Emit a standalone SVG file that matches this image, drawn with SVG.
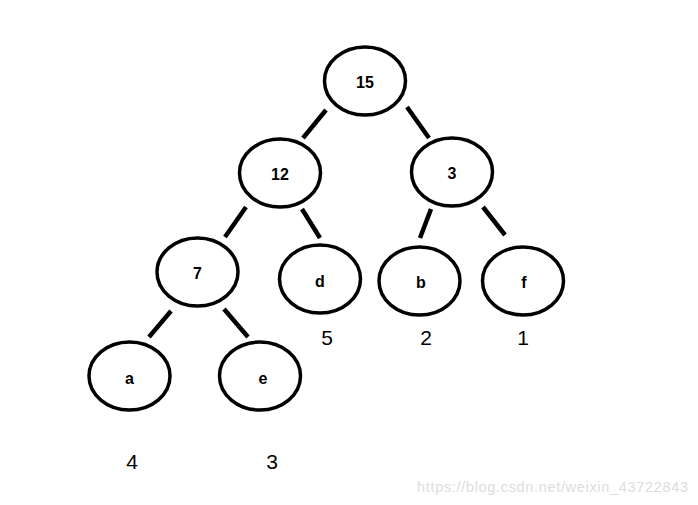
<svg xmlns="http://www.w3.org/2000/svg" width="698" height="505" viewBox="0 0 698 505">
<style>
.n ellipse{fill:#fff;stroke:#000;stroke-width:3.5}
.n text{font-family:"Liberation Sans",Arial,sans-serif;font-weight:bold;font-size:16px;text-anchor:middle;fill:#000}
.e line{stroke:#000;stroke-width:4.5}
.w{font-family:"Liberation Sans",Arial,sans-serif;font-size:21px;text-anchor:middle;fill:#000}
</style>
<rect width="698" height="505" fill="#fff"/>
<g id="edges" class="e">
<line x1="326" y1="110" x2="303" y2="138"/>
<line x1="407" y1="107" x2="429" y2="138"/>
<line x1="246" y1="207" x2="225" y2="237"/>
<line x1="302" y1="209" x2="320" y2="238"/>
<line x1="431" y1="209" x2="420" y2="238"/>
<line x1="483" y1="207" x2="505" y2="235"/>
<line x1="171" y1="311" x2="149" y2="337"/>
<line x1="224" y1="309" x2="248" y2="337"/>
</g>
<g id="n15" class="n"><ellipse cx="365" cy="81" rx="40.5" ry="34"/><text x="365" y="88">15</text></g>
<g id="n12" class="n"><ellipse cx="280" cy="173" rx="40.5" ry="34"/><text x="280" y="180">12</text></g>
<g id="n3" class="n"><ellipse cx="452" cy="172" rx="40.5" ry="34"/><text x="452" y="179">3</text></g>
<g id="n7" class="n"><ellipse cx="197.5" cy="272" rx="40.5" ry="34"/><text x="197.5" y="279">7</text></g>
<g id="nd" class="n"><ellipse cx="320" cy="279" rx="40.5" ry="34"/><text x="320" y="287">d</text></g>
<g id="nb" class="n"><ellipse cx="419.5" cy="281" rx="40.5" ry="34"/><text x="421" y="288">b</text></g>
<g id="nf" class="n"><ellipse cx="523" cy="281" rx="40.5" ry="34"/><text x="524" y="288">f</text></g>
<g id="na" class="n"><ellipse cx="129.5" cy="376" rx="40.5" ry="34"/><text x="129.5" y="384">a</text></g>
<g id="ne" class="n"><ellipse cx="260" cy="376" rx="40.5" ry="34"/><text x="263" y="384">e</text></g>
<g id="weights">
<text class="w" x="327" y="345">5</text>
<text class="w" x="426" y="345">2</text>
<text class="w" x="523" y="345">1</text>
<text class="w" x="132" y="469">4</text>
<text class="w" x="272" y="469">3</text>
</g>
<text x="417" y="492" font-family="Liberation Sans,Arial,sans-serif" font-size="14.5" fill="#dddddd" textLength="271">https://blog.csdn.net/weixin_43722843</text>
</svg>
